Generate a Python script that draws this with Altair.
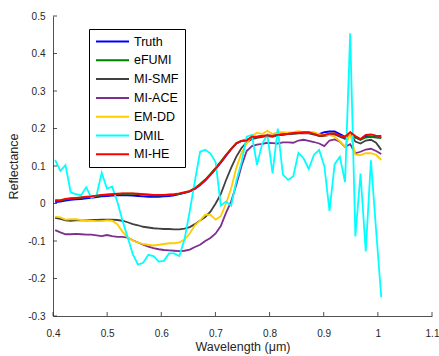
import altair as alt
import pandas as pd

wavelength = [0.4040, 0.4136, 0.4231, 0.4327, 0.4422, 0.4518, 0.4614, 0.4709, 0.4805, 0.4900,
              0.4996, 0.5092, 0.5187, 0.5283, 0.5378, 0.5474, 0.5570, 0.5665, 0.5761, 0.5856,
              0.5952, 0.6048, 0.6143, 0.6239, 0.6334, 0.6430, 0.6526, 0.6621, 0.6717, 0.6812,
              0.6908, 0.7004, 0.7099, 0.7195, 0.7290, 0.7386, 0.7482, 0.7577, 0.7673, 0.7768,
              0.7864, 0.7960, 0.8055, 0.8151, 0.8246, 0.8342, 0.8438, 0.8533, 0.8629, 0.8724,
              0.8820, 0.8916, 0.9011, 0.9107, 0.9202, 0.9298, 0.9394, 0.9489, 0.9585, 0.9680,
              0.9776, 0.9872, 0.9967, 1.0063]

truth = [0.004, 0.005, 0.008, 0.010, 0.011, 0.012, 0.014, 0.015, 0.017, 0.019,
         0.020, 0.021, 0.022, 0.022, 0.022, 0.021, 0.020, 0.019, 0.018, 0.018,
         0.018, 0.019, 0.020, 0.022, 0.025, 0.028, 0.032, 0.039, 0.049, 0.061,
         0.076, 0.092, 0.109, 0.127, 0.145, 0.160, 0.167, 0.169, 0.177, 0.177,
         0.179, 0.181, 0.180, 0.182, 0.184, 0.186, 0.188, 0.189, 0.189, 0.189,
         0.187, 0.185, 0.190, 0.192, 0.192, 0.185, 0.178, 0.188, 0.176, 0.170,
         0.180, 0.178, 0.177, 0.176]

efumi = [0.008, 0.008, 0.011, 0.013, 0.014, 0.016, 0.017, 0.019, 0.020, 0.022,
         0.023, 0.024, 0.025, 0.026, 0.026, 0.026, 0.025, 0.024, 0.023, 0.022,
         0.022, 0.022, 0.023, 0.024, 0.026, 0.029, 0.033, 0.041, 0.052, 0.064,
         0.079, 0.095, 0.112, 0.130, 0.146, 0.161, 0.167, 0.168, 0.177, 0.178,
         0.180, 0.181, 0.180, 0.183, 0.185, 0.186, 0.187, 0.188, 0.189, 0.189,
         0.185, 0.181, 0.183, 0.186, 0.186, 0.180, 0.176, 0.187, 0.176, 0.170,
         0.176, 0.178, 0.176, 0.175]

mi_smf = [-0.038, -0.041, -0.045, -0.046, -0.045, -0.045, -0.045, -0.044, -0.044, -0.043,
          -0.043, -0.043, -0.044, -0.046, -0.050, -0.055, -0.058, -0.062, -0.064, -0.066,
          -0.067, -0.068, -0.068, -0.069, -0.069, -0.067, -0.063, -0.055, -0.045, -0.036,
          -0.022, 0.000, 0.025, 0.062, 0.095, 0.125, 0.148, 0.163, 0.172, 0.175,
          0.178, 0.180, 0.178, 0.182, 0.183, 0.185, 0.186, 0.187, 0.188, 0.187,
          0.184, 0.180, 0.180, 0.183, 0.184, 0.178, 0.172, 0.188, 0.165, 0.160,
          0.168, 0.170, 0.162, 0.143]

mi_ace = [-0.071, -0.077, -0.082, -0.082, -0.081, -0.082, -0.083, -0.083, -0.085, -0.087,
          -0.084, -0.087, -0.089, -0.089, -0.091, -0.098, -0.104, -0.110, -0.115, -0.119,
          -0.122, -0.124, -0.125, -0.126, -0.127, -0.126, -0.123, -0.116, -0.110, -0.100,
          -0.092, -0.080, -0.060, -0.025, 0.005, 0.050, 0.100, 0.140, 0.153, 0.157,
          0.159, 0.162, 0.161, 0.160, 0.163, 0.163, 0.162, 0.168, 0.170, 0.167,
          0.164, 0.160, 0.153, 0.168, 0.171, 0.165, 0.151, 0.158, 0.134, 0.138,
          0.144, 0.146, 0.140, 0.132]

em_dd = [-0.035, -0.037, -0.043, -0.042, -0.042, -0.044, -0.046, -0.046, -0.047, -0.047,
         -0.045, -0.046, -0.055, -0.075, -0.090, -0.099, -0.104, -0.108, -0.110, -0.112,
         -0.110, -0.108, -0.106, -0.106, -0.104, -0.096, -0.080, -0.058, -0.045, -0.030,
         -0.030, -0.043, -0.034, 0.000, 0.040, 0.095, 0.135, 0.160, 0.180, 0.189,
         0.185, 0.194, 0.185, 0.190, 0.190, 0.189, 0.190, 0.193, 0.190, 0.190,
         0.190, 0.185, 0.181, 0.183, 0.178, 0.166, 0.151, 0.187, 0.130, 0.129,
         0.134, 0.134, 0.130, 0.116]

dmil = [0.116, 0.087, 0.102, 0.030, 0.025, 0.022, 0.043, 0.015, 0.022, 0.082,
        0.040, 0.045, 0.005, -0.045, -0.090, -0.135, -0.163, -0.158, -0.137, -0.140,
        -0.155, -0.153, -0.133, -0.133, -0.140, -0.095, -0.020, 0.060, 0.138, 0.143,
        0.133, 0.110, -0.005, 0.005, -0.006, 0.060, 0.110, 0.178, 0.183, 0.103,
        0.160, 0.183, 0.080, 0.200, 0.077, 0.063, 0.073, 0.135, 0.120, 0.092,
        0.130, 0.143, 0.100, -0.020, 0.105, 0.125, 0.057, 0.454, -0.088, 0.080,
        -0.128, 0.115, -0.070, -0.250]

mi_he = [0.008, 0.009, 0.012, 0.014, 0.015, 0.016, 0.018, 0.019, 0.021, 0.023,
         0.024, 0.025, 0.026, 0.027, 0.027, 0.027, 0.026, 0.025, 0.024, 0.023,
         0.023, 0.023, 0.024, 0.025, 0.027, 0.030, 0.033, 0.040, 0.050, 0.062,
         0.077, 0.093, 0.110, 0.128, 0.145, 0.160, 0.167, 0.168, 0.178, 0.178,
         0.180, 0.182, 0.180, 0.183, 0.185, 0.186, 0.188, 0.189, 0.190, 0.190,
         0.186, 0.181, 0.182, 0.186, 0.187, 0.181, 0.178, 0.190, 0.180, 0.172,
         0.183, 0.184, 0.181, 0.180]

series_names = ["Truth", "eFUMI", "MI-SMF", "MI-ACE", "EM-DD", "DMIL", "MI-HE"]
series_values = [truth, efumi, mi_smf, mi_ace, em_dd, dmil, mi_he]
series_colors = ["#0000FF", "#008000", "#404040", "#7E2F8E", "#FFCC00", "#00FFFF", "#FF0000"]

x_ticks = [0.4, 0.5, 0.6, 0.7, 0.8, 0.9, 1.0, 1.1]
y_ticks = [-0.3, -0.2, -0.1, 0.0, 0.1, 0.2, 0.3, 0.4, 0.5]

rows = []
for name, vals in zip(series_names, series_values):
    for w, v in zip(wavelength, vals):
        rows.append({"Wavelength": w, "Reflectance": v, "Method": name})
df = pd.DataFrame(rows)

axis_color = "#262626"
xscale = alt.Scale(domain=[0.4, 1.1], nice=False, zero=False)
yscale = alt.Scale(domain=[-0.3, 0.5], nice=False, zero=False)
label_expr = ("datum.value < -1e-9 ? '-' + format(-datum.value, '~g') : "
              "format(abs(datum.value) < 1e-9 ? 0 : datum.value, '~g')")

x_axis = alt.Axis(values=x_ticks, title="Wavelength (μm)", labelExpr=label_expr,
                  ticks=False, labelPadding=12, titlePadding=2, labelFlush=False)
y_axis = alt.Axis(values=y_ticks, title="Reflectance", labelExpr=label_expr,
                  ticks=False, labelPadding=8, titlePadding=7, labelFlush=False)

lines = alt.Chart(df).mark_line(strokeWidth=1.8).encode(
    x=alt.X("Wavelength:Q", scale=xscale, axis=x_axis),
    y=alt.Y("Reflectance:Q", scale=yscale, axis=y_axis),
    color=alt.Color("Method:N", sort=series_names,
                    scale=alt.Scale(domain=series_names, range=series_colors),
                    legend=alt.Legend(orient="none", legendX=36, legendY=13, title=None,
                                      symbolType="M-1,0H5", symbolSize=121, symbolStrokeWidth=2,
                                      labelFontSize=12.5, labelColor="black", labelOffset=26,
                                      padding=6, rowPadding=5.8, strokeColor="black",
                                      fillColor="white")),
)

xtick_rules = alt.Chart(pd.DataFrame({"Wavelength": x_ticks})).mark_rule(
    color=axis_color, strokeWidth=0.8).encode(
    x=alt.X("Wavelength:Q", scale=xscale, axis=x_axis),
    y=alt.value(300), y2=alt.value(296))

ytick_rules = alt.Chart(pd.DataFrame({"Reflectance": y_ticks})).mark_rule(
    color=axis_color, strokeWidth=0.8).encode(
    y=alt.Y("Reflectance:Q", scale=yscale, axis=y_axis),
    x=alt.value(0), x2=alt.value(4))

chart = alt.layer(lines, xtick_rules, ytick_rules).properties(
    width=379, height=300,
    autosize=alt.AutoSizeParams(type="none"),
    padding={"left": 53, "top": 16, "right": 7, "bottom": 40},
).configure(font="Liberation Sans").configure_view(stroke=None).configure_axis(
    grid=False, labelFontSize=10, titleFontSize=12.5, titleFontWeight="normal",
    labelColor=axis_color, titleColor=axis_color, domainColor=axis_color, domainWidth=0.8,
).configure_legend(labelFont="Liberation Sans")

chart.save("out.html", embed_options={"renderer": "svg", "actions": False})
